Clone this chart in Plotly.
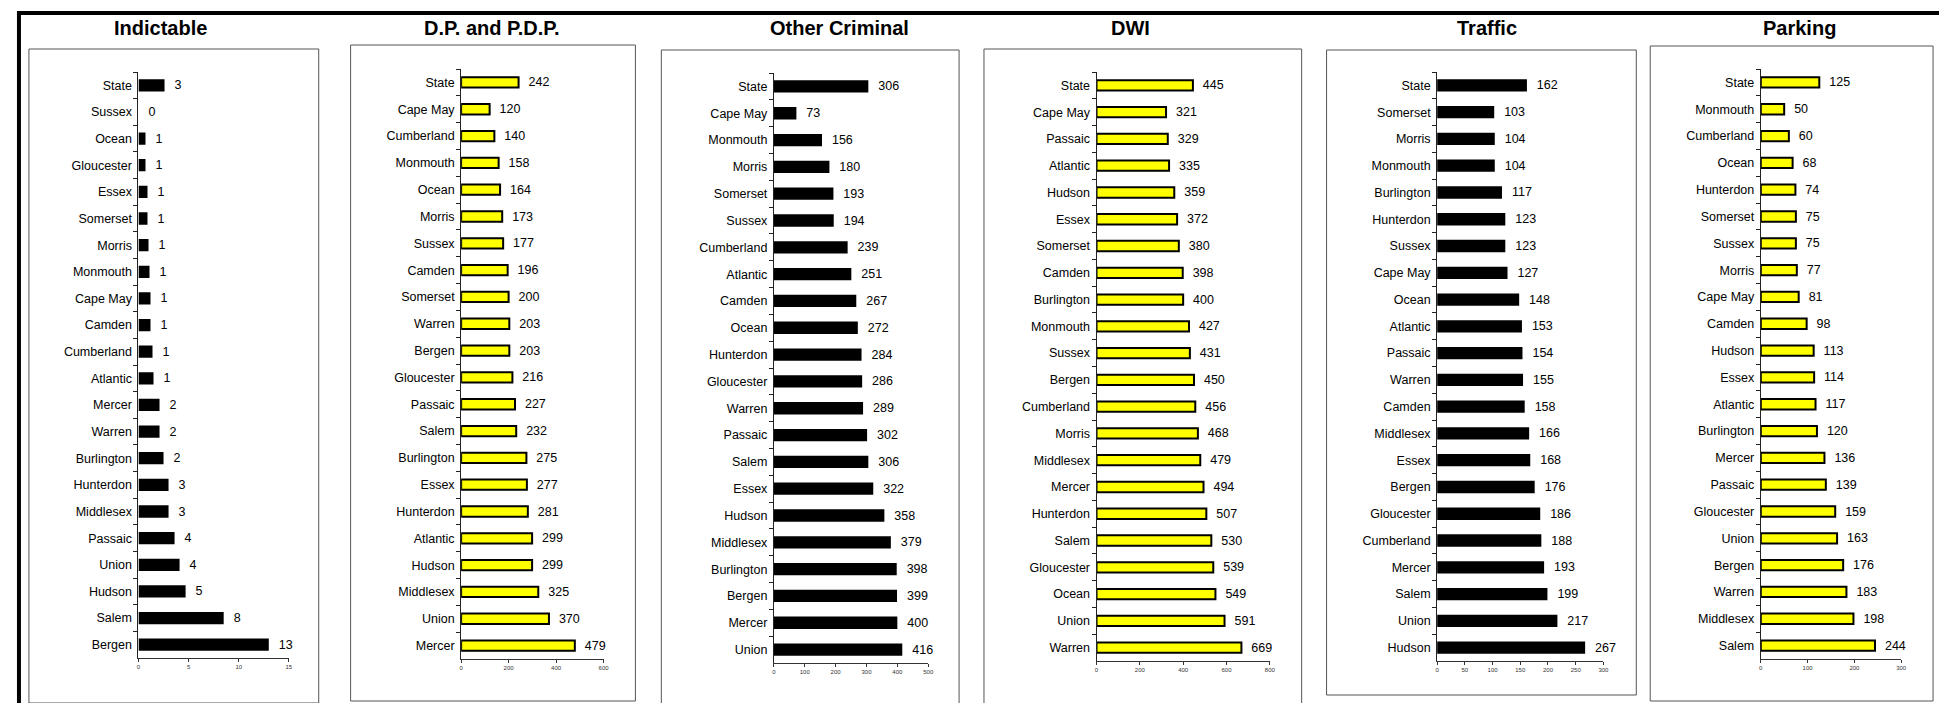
import plotly.graph_objects as go

W, H = 1947, 703

# ---------------- data ----------------
indictable_counties = ["State", "Sussex", "Ocean", "Gloucester", "Essex", "Somerset", "Morris",
                       "Monmouth", "Cape May", "Camden", "Cumberland", "Atlantic", "Mercer", "Warren",
                       "Burlington", "Hunterdon", "Middlesex", "Passaic", "Union", "Hudson", "Salem", "Bergen"]
indictable_values = [2.6, 0.0, 0.7, 0.7, 0.9, 0.9, 1.0, 1.1, 1.2, 1.2, 1.4, 1.5, 2.1, 2.1, 2.5,
                     3.0, 3.0, 3.6, 4.1, 4.7, 8.5, 13.0]
indictable_labels = [3, 0, 1, 1, 1, 1, 1, 1, 1, 1, 1, 1, 2, 2, 2, 3, 3, 4, 4, 5, 8, 13]

dp_counties = ["State", "Cape May", "Cumberland", "Monmouth", "Ocean", "Morris", "Sussex", "Camden",
               "Somerset", "Warren", "Bergen", "Gloucester", "Passaic", "Salem", "Burlington", "Essex",
               "Hunterdon", "Atlantic", "Hudson", "Middlesex", "Union", "Mercer"]
dp_values = [242, 120, 140, 158, 164, 173, 177, 196, 200, 203, 203, 216, 227, 232, 275, 277,
             281, 299, 299, 325, 370, 479]

other_counties = ["State", "Cape May", "Monmouth", "Morris", "Somerset", "Sussex", "Cumberland",
                  "Atlantic", "Camden", "Ocean", "Hunterdon", "Gloucester", "Warren", "Passaic", "Salem",
                  "Essex", "Hudson", "Middlesex", "Burlington", "Bergen", "Mercer", "Union"]
other_values = [306, 73, 156, 180, 193, 194, 239, 251, 267, 272, 284, 286, 289, 302, 306, 322,
                358, 379, 398, 399, 400, 416]

dwi_counties = ["State", "Cape May", "Passaic", "Atlantic", "Hudson", "Essex", "Somerset", "Camden",
                "Burlington", "Monmouth", "Sussex", "Bergen", "Cumberland", "Morris", "Middlesex",
                "Mercer", "Hunterdon", "Salem", "Gloucester", "Ocean", "Union", "Warren"]
dwi_values = [445, 321, 329, 335, 359, 372, 380, 398, 400, 427, 431, 450, 456, 468, 479, 494,
              507, 530, 539, 549, 591, 669]

traffic_counties = ["State", "Somerset", "Morris", "Monmouth", "Burlington", "Hunterdon", "Sussex",
                    "Cape May", "Ocean", "Atlantic", "Passaic", "Warren", "Camden", "Middlesex", "Essex",
                    "Bergen", "Gloucester", "Cumberland", "Mercer", "Salem", "Union", "Hudson"]
traffic_values = [162, 103, 104, 104, 117, 123, 123, 127, 148, 153, 154, 155, 158, 166, 168, 176,
                  186, 188, 193, 199, 217, 267]

parking_counties = ["State", "Monmouth", "Cumberland", "Ocean", "Hunterdon", "Somerset", "Sussex",
                    "Morris", "Cape May", "Camden", "Hudson", "Essex", "Atlantic", "Burlington", "Mercer",
                    "Passaic", "Gloucester", "Union", "Bergen", "Warren", "Middlesex", "Salem"]
parking_values = [125, 50, 60, 68, 74, 75, 75, 77, 81, 98, 113, 114, 117, 120, 136, 139, 159, 163,
                  176, 183, 198, 244]

titles = ["Indictable", "D.P. and P.D.P.", "Other Criminal", "DWI", "Traffic", "Parking"]
axis_max = [15, 600, 500, 800, 300, 300]
axis_step = [5, 200, 100, 200, 50, 100]

# ---------------- layout geometry (pixels) ----------------
plot_x = [(129, 280), (453, 596), (767, 922), (1091, 1265), (1433, 1600), (1758, 1899)]
plot_y = [(64, 650), (61, 651), (65, 655), (64, 653), (64, 653), (61, 651)]
boxes = [(19, 41, 310, 695), (342, 37, 628, 693), (654, 42, 953, 698),
         (978, 41, 1297, 696), (1322, 42, 1633, 687), (1647, 38, 1931, 693)]
title_x = [151, 484, 833, 1125, 1483, 1797]

FONT = "Arial, 'Liberation Sans', sans-serif"


def px(x):
    return x / W


def py(y):
    return 1 - y / H


panels = [
    (indictable_counties, indictable_values, [str(v) for v in indictable_labels], "black"),
    (dp_counties, dp_values, [str(v) for v in dp_values], "yellow"),
    (other_counties, other_values, [str(v) for v in other_values], "black"),
    (dwi_counties, dwi_values, [str(v) for v in dwi_values], "yellow"),
    (traffic_counties, traffic_values, [str(v) for v in traffic_values], "black"),
    (parking_counties, parking_values, [str(v) for v in parking_values], "yellow"),
]

fig = go.Figure()
layout = dict(
    width=W, height=H, margin=dict(l=0, r=0, t=0, b=0),
    paper_bgcolor="white", plot_bgcolor="white", showlegend=False,
    font=dict(family=FONT, color="black"),
)

for i, (cats, vals, labels, style) in enumerate(panels):
    n = i + 1
    xa = "x" if n == 1 else f"x{n}"
    ya = "y" if n == 1 else f"y{n}"
    if style == "black":
        marker = dict(color="black", line=dict(width=0))
        width = 0.46
    else:
        marker = dict(color="#FFFF00", line=dict(color="black", width=2))
        width = 0.385
    fig.add_trace(go.Bar(
        x=vals, y=cats, orientation="h", xaxis=xa, yaxis=ya,
        marker=marker, width=width,
        text=labels, texttemplate="\u00a0\u00a0%{text}", textposition="outside",
        textfont=dict(size=12.5, color="black", family=FONT),
        constraintext="none", cliponaxis=False, hoverinfo="skip",
    ))
    x0, x1 = plot_x[i]
    ytop, ybot = plot_y[i]
    layout["xaxis" if n == 1 else f"xaxis{n}"] = dict(
        domain=[px(x0), px(x1)], anchor=ya, range=[0, axis_max[i]], dtick=axis_step[i],
        tick0=0, showgrid=False, zeroline=False, showline=True, linecolor="#333", linewidth=1,
        ticks="outside", ticklen=3, tickcolor="#333", tickwidth=1,
        tickfont=dict(size=6, color="#333", family=FONT), fixedrange=True,
    )
    layout["yaxis" if n == 1 else f"yaxis{n}"] = dict(
        domain=[py(ybot), py(ytop)], anchor=xa, autorange="reversed", type="category",
        showgrid=False, zeroline=False, showline=True, linecolor="#222", linewidth=1,
        ticks="outside", ticklen=4, tickcolor="#222", tickwidth=1, tickson="boundaries",
        ticklabelstandoff=3,
        tickfont=dict(size=12.5, color="black", family=FONT), fixedrange=True,
    )

shapes = []
for (bx0, by0, bx1, by1) in boxes:
    shapes.append(dict(type="rect", xref="paper", yref="paper",
                       x0=px(bx0), x1=px(bx1), y0=py(by1), y1=py(by0),
                       line=dict(color="#555", width=1), fillcolor="rgba(0,0,0,0)", layer="below"))
# outer thick frame (top, left, right)
frame = [(7, 3, 1944, 7), (7, 3, 11, 703), (1938, 3, 1944, 703)]
for (fx0, fy0, fx1, fy1) in frame:
    shapes.append(dict(type="rect", xref="paper", yref="paper",
                       x0=px(fx0), x1=px(fx1), y0=py(fy1), y1=py(fy0),
                       line=dict(width=0), fillcolor="black", layer="above"))
layout["shapes"] = shapes

layout["annotations"] = [
    dict(text=f"<b>{t}</b>", x=px(tx), y=py(20), xref="paper", yref="paper",
         xanchor="center", yanchor="middle", showarrow=False,
         font=dict(size=20, color="black", family=FONT))
    for t, tx in zip(titles, title_x)
]

fig.update_layout(**layout)
fig.write_html("out.html")
